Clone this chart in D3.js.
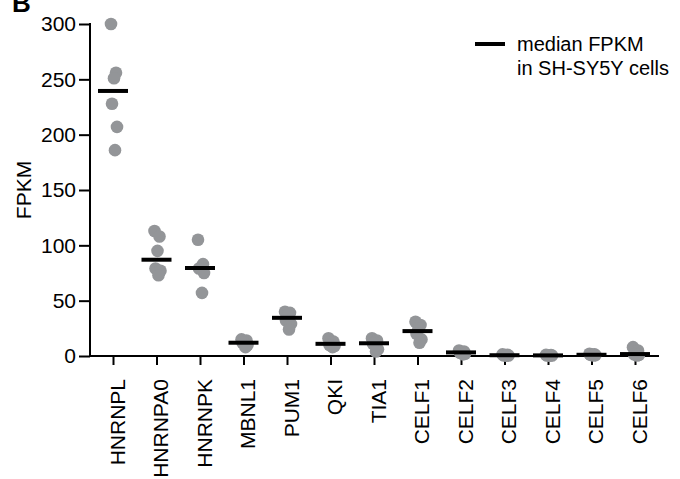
<!DOCTYPE html>
<html>
<head>
<meta charset="utf-8">
<script src="https://cdn.jsdelivr.net/npm/d3@7"></script>
<style>
  body { margin: 0; background: #fff; }
  svg { font-family: Arial, "Liberation Sans", sans-serif; }
</style>
</head>
<body>
<svg id="chart" width="680" height="479"></svg>
<script>
// genes on the x axis
const genes = ["HNRNPL", "HNRNPA0", "HNRNPK", "MBNL1", "PUM1", "QKI", "TIA1",
               "CELF1", "CELF2", "CELF3", "CELF4", "CELF5", "CELF6"];

// FPKM per sample
const hnrnpl  = [300, 256, 251, 228, 207, 186];
const hnrnpa0 = [113, 108, 95, 79, 77, 73];
const hnrnpk  = [105, 83, 80, 79, 75, 57];
const mbnl1   = [15, 14, 12, 12, 10, 8];
const pum1    = [40, 39, 37, 32, 29, 24];
const qki     = [16, 13, 12, 10, 9, 8];
const tia1    = [16, 14, 12, 11, 6, 4];
const celf1   = [31, 28, 25, 20, 15, 12];
const celf2   = [5, 4, 3.5, 3, 2, 1.5];
const celf3   = [1.5, 1, 0.8, 0.6, 0.5, 0.3];
const celf4   = [1, 0.8, 0.6, 0.5, 0.4, 0.3];
const celf5   = [2, 1.5, 1.2, 1, 0.8, 0.5];
const celf6   = [8, 5, 2, 1.5, 1, 0.5];

const yTicks = [0, 50, 100, 150, 200, 250, 300];

const samples = [hnrnpl, hnrnpa0, hnrnpk, mbnl1, pum1, qki, tia1,
                 celf1, celf2, celf3, celf4, celf5, celf6];

const svg = d3.select("#chart");
const fontSize = 21;

const x = d3.scalePoint().domain(genes).range([113, 635]);
const y = d3.scaleLinear().domain([0, 300]).range([356, 24]);

// panel letter, cut off at the top as in the figure
svg.append("text")
    .attr("x", 12).attr("y", 12)
    .attr("font-size", 26).attr("font-weight", "bold")
    .text("B");

// y axis
const yAxis = svg.append("g")
    .attr("transform", "translate(90,0)")
    .call(d3.axisLeft(y).tickValues(yTicks).tickSize(11).tickPadding(3));
yAxis.select(".domain").attr("stroke-width", 2).attr("d", `M0,${y(300) - 1}V${y(0)}`);
yAxis.selectAll(".tick line").attr("stroke-width", 2);
yAxis.selectAll(".tick text").attr("font-size", fontSize).attr("font-family", null).attr("fill", "#000");

// x axis
const xAxis = svg.append("g")
    .attr("transform", `translate(0,${y(0)})`)
    .call(d3.axisBottom(x).tickSize(9).tickSizeOuter(0));
xAxis.select(".domain").attr("stroke-width", 2).attr("d", "M89,0H659");
xAxis.selectAll(".tick line").attr("stroke-width", 2);
xAxis.selectAll(".tick text")
    .attr("font-size", fontSize).attr("font-family", null).attr("fill", "#000")
    .attr("text-anchor", "end")
    .attr("transform", "translate(0,23) rotate(-90)")
    .attr("x", 0).attr("y", 0).attr("dy", "0.53em");

// y title
svg.append("text")
    .attr("transform", "translate(24,190) rotate(-90)")
    .attr("text-anchor", "middle")
    .attr("dy", "0.35em")
    .attr("font-size", fontSize)
    .text("FPKM");

// dots
const groups = svg.append("g").selectAll("g")
    .data(genes.map((g, i) => ({ gene: g, vals: samples[i] })))
    .join("g");

groups.selectAll("circle")
    .data(d => d.vals.map((v, i) => ({ gene: d.gene, v, i })))
    .join("circle")
    .attr("cx", d => x(d.gene) + ((d.i * 5) % 7 - 2))
    .attr("cy", d => y(d.v))
    .attr("r", 6.3)
    .attr("fill", "#939598");

// medians
groups.append("line")
    .attr("x1", d => x(d.gene) - 15)
    .attr("x2", d => x(d.gene) + 15)
    .attr("y1", d => y(d3.median(d.vals)))
    .attr("y2", d => y(d3.median(d.vals)))
    .attr("stroke", "#000")
    .attr("stroke-width", 4);

// legend
const legend = svg.append("g");
legend.append("line")
    .attr("x1", 475).attr("x2", 505)
    .attr("y1", 44).attr("y2", 44)
    .attr("stroke", "#000").attr("stroke-width", 4);
legend.append("text")
    .attr("x", 517).attr("y", 51)
    .attr("font-size", 20)
    .text("median FPKM");
legend.append("text")
    .attr("x", 517).attr("y", 75)
    .attr("font-size", 20)
    .text("in SH-SY5Y cells");
</script>
</body>
</html>
